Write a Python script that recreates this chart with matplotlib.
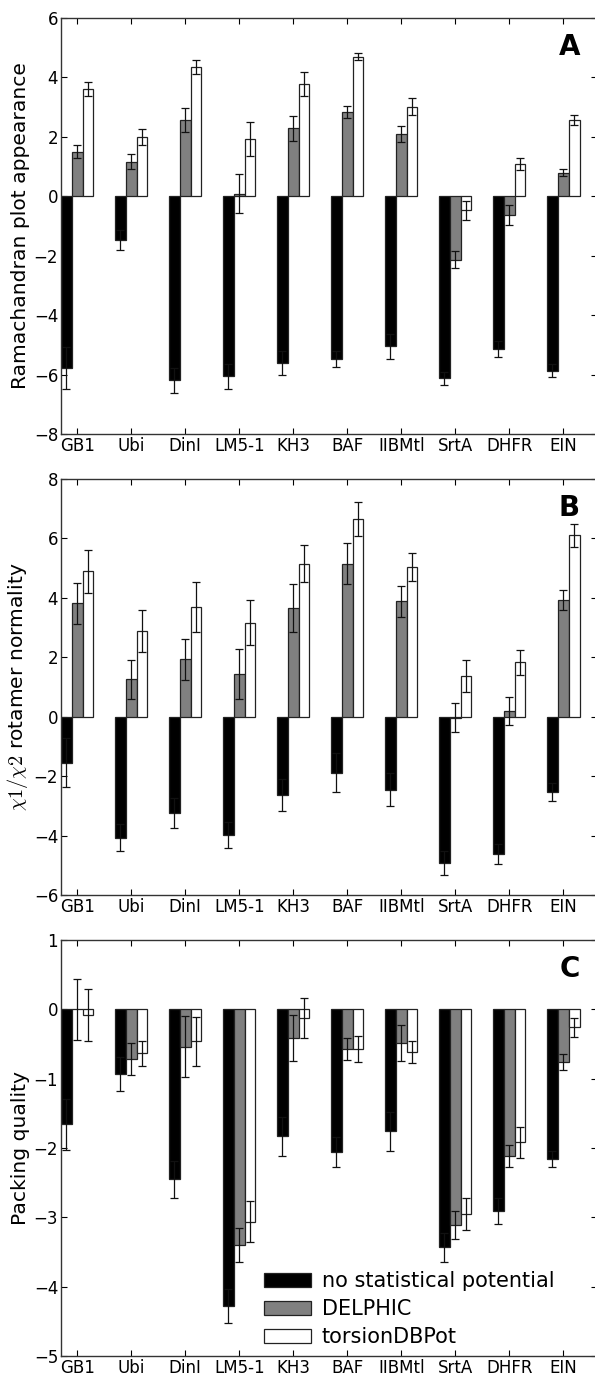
import numpy as np
import matplotlib
matplotlib.use("Agg")
import matplotlib.pyplot as plt

proteins = ["GB1", "Ubi", "DinI", "LM5-1", "KH3", "BAF", "IIBMtl", "SrtA", "DHFR", "EIN"]
series_names = ["no statistical potential", "DELPHIC", "torsionDBPot"]

# Panel A: Ramachandran plot appearance
rama_none = [-5.78, -1.48, -6.20, -6.06, -5.61, -5.48, -5.05, -6.12, -5.14, -5.87]
rama_none_err = [0.70, 0.34, 0.43, 0.42, 0.41, 0.27, 0.42, 0.22, 0.27, 0.21]
rama_delphic = [1.50, 1.16, 2.56, 0.09, 2.28, 2.84, 2.11, -2.13, -0.63, 0.79]
rama_delphic_err = [0.22, 0.26, 0.40, 0.65, 0.42, 0.20, 0.27, 0.28, 0.33, 0.11]
rama_torsion = [3.61, 1.98, 4.35, 1.93, 3.79, 4.69, 3.01, -0.48, 1.09, 2.56]
rama_torsion_err = [0.22, 0.27, 0.23, 0.56, 0.40, 0.12, 0.29, 0.31, 0.21, 0.16]

# Panel B: chi1/chi2 rotamer normality
rot_none = [-1.55, -4.07, -3.24, -3.99, -2.63, -1.89, -2.45, -4.92, -4.63, -2.54]
rot_none_err = [0.83, 0.46, 0.49, 0.43, 0.54, 0.66, 0.54, 0.40, 0.34, 0.31]
rot_delphic = [3.81, 1.26, 1.94, 1.43, 3.66, 5.15, 3.89, -0.03, 0.18, 3.94]
rot_delphic_err = [0.69, 0.66, 0.69, 0.84, 0.80, 0.69, 0.52, 0.48, 0.47, 0.34]
rot_torsion = [4.89, 2.88, 3.69, 3.16, 5.15, 6.66, 5.04, 1.37, 1.83, 6.10]
rot_torsion_err = [0.73, 0.71, 0.85, 0.76, 0.62, 0.57, 0.48, 0.53, 0.42, 0.39]

# Panel C: packing quality
pack_none = [-1.66, -0.93, -2.45, -4.28, -1.83, -2.06, -1.76, -3.43, -2.91, -2.16]
pack_none_err = [0.37, 0.25, 0.27, 0.25, 0.28, 0.22, 0.28, 0.21, 0.19, 0.11]
pack_delphic = [0.00, -0.71, -0.54, -3.40, -0.41, -0.57, -0.48, -3.11, -2.11, -0.76]
pack_delphic_err = [0.44, 0.23, 0.44, 0.25, 0.33, 0.16, 0.26, 0.20, 0.16, 0.11]
pack_torsion = [-0.08, -0.63, -0.46, -3.06, -0.13, -0.57, -0.61, -2.95, -1.92, -0.26]
pack_torsion_err = [0.38, 0.18, 0.35, 0.30, 0.29, 0.19, 0.16, 0.23, 0.23, 0.14]

colors = ["#000000", "#808080", "#ffffff"]

plt.rcParams["font.family"] = ["DejaVu Sans"]
plt.rcParams["mathtext.fontset"] = "cm"

fig = plt.figure(figsize=(5.95, 13.75), dpi=100)

panels = [
    ("A", "Ramachandran plot appearance", (-8, 6), [-8, -6, -4, -2, 0, 2, 4, 6],
     [(rama_none, rama_none_err), (rama_delphic, rama_delphic_err), (rama_torsion, rama_torsion_err)],
     0.6844),
    ("B", r"$\chi1/\chi2$ rotamer normality", (-6, 8), [-6, -4, -2, 0, 2, 4, 6, 8],
     [(rot_none, rot_none_err), (rot_delphic, rot_delphic_err), (rot_torsion, rot_torsion_err)],
     0.3491),
    ("C", "Packing quality", (-5, 1), [-5, -4, -3, -2, -1, 0, 1],
     [(pack_none, pack_none_err), (pack_delphic, pack_delphic_err), (pack_torsion, pack_torsion_err)],
     0.0138),
]

x = np.arange(len(proteins))
w = 0.2
ax_h = 416 / 1375
left = 61 / 595

for letter, ylabel, ylim, yticks, data, bottom in panels:
    ax = fig.add_axes([left, bottom, 1.003 - left, ax_h])
    handles = []
    for i, ((vals, errs), c, name) in enumerate(zip(data, colors, series_names)):
        b = ax.bar(x - 0.3 + i * w, vals, w, align="edge", color=c,
                   edgecolor="#222222", linewidth=0.9, label=name, zorder=2)
        ax.errorbar(x - 0.3 + i * w + w / 2, vals, yerr=errs, fmt="none",
                    ecolor="#111111", elinewidth=0.9, capsize=3, capthick=0.9, zorder=3)
        handles.append(b)
    ax.set_xlim(-0.3, 9.62)
    ax.set_ylim(*ylim)
    ax.set_yticks(yticks)
    ax.set_yticklabels([("\u2212%d" % -t) if t < 0 else "%d" % t for t in yticks])
    ax.set_xticks(x)
    ax.set_xticklabels(proteins)
    ax.tick_params(direction="in", length=4, width=0.8, top=True, right=True,
                   labelsize=12, pad=2)
    for s in ax.spines.values():
        s.set_linewidth(1.0)
        s.set_color("#333333")
    ax.set_ylabel(ylabel, fontsize=14.6, labelpad=3)
    ax.text(0.949, 0.93, letter, transform=ax.transAxes, ha="center", va="center",
            fontsize=20, fontweight="bold")
    if letter == "C":
        ax.legend(handles, series_names, loc="lower left", frameon=False,
                  fontsize=15, handlelength=2.3, handleheight=0.65,
                  borderpad=0.0, borderaxespad=0.0, labelspacing=0.38,
                  handletextpad=0.5, bbox_to_anchor=(0.378, 0.021))

fig.savefig("out.png", dpi=100)
